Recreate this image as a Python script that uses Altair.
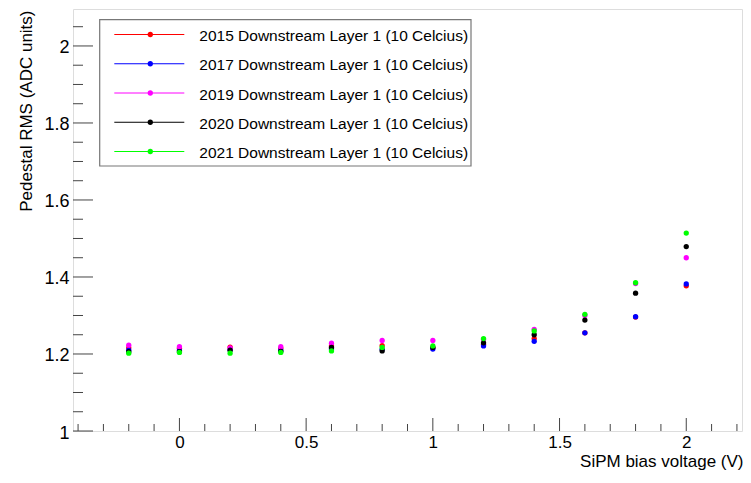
import altair as alt
import pandas as pd

# ---- data ----
bias_v = [-0.2, 0.0, 0.2, 0.4, 0.6, 0.8, 1.0, 1.2, 1.4, 1.6, 1.8, 2.0]
series = [
    "2015 Downstream Layer 1 (10 Celcius)",
    "2017 Downstream Layer 1 (10 Celcius)",
    "2019 Downstream Layer 1 (10 Celcius)",
    "2020 Downstream Layer 1 (10 Celcius)",
    "2021 Downstream Layer 1 (10 Celcius)",
]
colors = ["#ff0000", "#0000ff", "#ff00ff", "#000000", "#00ff00"]
rms_2015 = [1.216, 1.215, 1.218, 1.215, 1.221, 1.222, 1.216, 1.225, 1.240, 1.255, 1.296, 1.377]
rms_2017 = [1.210, 1.209, 1.211, 1.210, 1.213, 1.212, 1.213, 1.221, 1.233, 1.255, 1.297, 1.382]
rms_2019 = [1.223, 1.219, 1.216, 1.219, 1.228, 1.235, 1.235, 1.238, 1.264, 1.300, 1.383, 1.450]
rms_2020 = [1.206, 1.206, 1.210, 1.207, 1.217, 1.208, 1.217, 1.229, 1.250, 1.288, 1.358, 1.479]
rms_2021 = [1.202, 1.204, 1.202, 1.204, 1.208, 1.217, 1.221, 1.240, 1.260, 1.303, 1.385, 1.514]

x_major = [0.0, 0.5, 1.0, 1.5, 2.0]
x_minor = [-0.4, -0.3, -0.2, -0.1, 0.1, 0.2, 0.3, 0.4, 0.6, 0.7, 0.8, 0.9,
           1.1, 1.2, 1.3, 1.4, 1.6, 1.7, 1.8, 1.9, 2.1, 2.2]
y_major = [1.0, 1.2, 1.4, 1.6, 1.8, 2.0]
y_minor = [1.05, 1.1, 1.15, 1.25, 1.3, 1.35, 1.45, 1.5, 1.55, 1.65, 1.7, 1.75,
           1.85, 1.9, 1.95, 2.05]

all_rms = [rms_2015, rms_2017, rms_2019, rms_2020, rms_2021]
rows = []
for i, (s, vals) in enumerate(zip(series, all_rms)):
    for xv, yv in zip(bias_v, vals):
        rows.append({"series": s, "x": xv, "y": yv, "ord": i})
df = pd.DataFrame(rows)

W, H = 669, 422
PADL = 65
FONT = "Liberation Sans"
xscale = alt.Scale(domain=[-0.42, 2.22], nice=False, zero=False)
yscale = alt.Scale(domain=[1.0, 2.096], nice=False, zero=False)
cscale = alt.Scale(domain=series, range=colors)

xaxis = alt.Axis(
    values=x_major, format="~g", grid=False, domain=False, ticks=False, tickSize=0,
    labelFontSize=17, labelFont=FONT, labelColor="black", labelBaseline="alphabetic",
    labelPadding=16, labelFlush=False,
    title="SiPM bias voltage (V)", titleFont=FONT, titleFontSize=17, titleFontWeight="normal",
    titleColor="black", titleAlign="right", titleX=W + 1, titleY=35, titleBaseline="alphabetic",
)
yaxis = alt.Axis(
    values=y_major, format="~g", grid=False, domain=False, ticks=False, tickSize=0,
    labelFontSize=18, labelFont=FONT, labelColor="black", labelBaseline="middle",
    labelPadding=4, labelOffset=2, labelFlush=False,
    title="Pedestal RMS (ADC units)", titleFont=FONT, titleFontSize=17, titleFontWeight="normal",
    titleColor="black", titleAngle=-90, titleAlign="right", titleBaseline="alphabetic",
    titleX=-42, titleY=1,
)

points = alt.Chart(df).mark_circle(size=28, opacity=1).encode(
    x=alt.X("x:Q", scale=xscale, axis=xaxis),
    y=alt.Y("y:Q", scale=yscale, axis=yaxis),
    color=alt.Color("series:N", scale=cscale, legend=None),
    order=alt.Order("ord:Q"),
)

tick_col = "#444444"
xmaj = alt.Chart(pd.DataFrame({"v": x_major})).mark_rule(color=tick_col, strokeWidth=1).encode(
    x=alt.X("v:Q", scale=xscale), y=alt.value(H), y2=alt.value(H - 13))
xmin = alt.Chart(pd.DataFrame({"v": x_minor})).mark_rule(color=tick_col, strokeWidth=1).encode(
    x=alt.X("v:Q", scale=xscale), y=alt.value(H), y2=alt.value(H - 7))
ymaj = alt.Chart(pd.DataFrame({"v": y_major})).mark_rule(color=tick_col, strokeWidth=1).encode(
    y=alt.Y("v:Q", scale=yscale), x=alt.value(0), x2=alt.value(20))
ymin = alt.Chart(pd.DataFrame({"v": y_minor})).mark_rule(color=tick_col, strokeWidth=1).encode(
    y=alt.Y("v:Q", scale=yscale), x=alt.value(0), x2=alt.value(10))

main = alt.layer(xmaj, xmin, ymaj, ymin, points)

# ---- legend box ----
leg_df = pd.DataFrame({"series": series, "row": list(range(len(series)))})
lscale = alt.Scale(domain=[0, 4], range=[25.5, 142.5])
DX = 2
box = alt.Chart(alt.Data(values=[{"a": 1}])).mark_rect(
    fill="white", stroke="#777777", strokeWidth=1.2
).encode(x=alt.value(24.7 + DX), x2=alt.value(396 + DX), y=alt.value(10.7), y2=alt.value(157))
lline = alt.Chart(leg_df).mark_rule(strokeWidth=1).encode(
    y=alt.Y("row:Q", scale=lscale, axis=None),
    x=alt.value(39.3 + DX), x2=alt.value(109.3 + DX),
    color=alt.Color("series:N", scale=cscale, legend=None))
ldot = alt.Chart(leg_df).mark_circle(size=28, opacity=1).encode(
    y=alt.Y("row:Q", scale=lscale, axis=None),
    x=alt.value(75.3 + DX),
    color=alt.Color("series:N", scale=cscale, legend=None))
ltext = alt.Chart(leg_df).mark_text(
    align="left", baseline="middle", dy=1.5, fontSize=15.5, font=FONT, color="black"
).encode(
    y=alt.Y("row:Q", scale=lscale, axis=None),
    x=alt.value(124.3 + DX),
    text="series:N")
legend = alt.layer(box, lline, ldot, ltext)

chart = alt.layer(main, legend).resolve_scale(y="independent").properties(
    width=W, height=H,
    autosize=alt.AutoSizeParams(type="none"),
    padding={"left": PADL, "top": 1, "right": 1, "bottom": 39},
).configure_view(stroke="#444444", strokeWidth=1).configure(background="white")

chart.save("out.html", embed_options={"renderer": "svg", "actions": False})
